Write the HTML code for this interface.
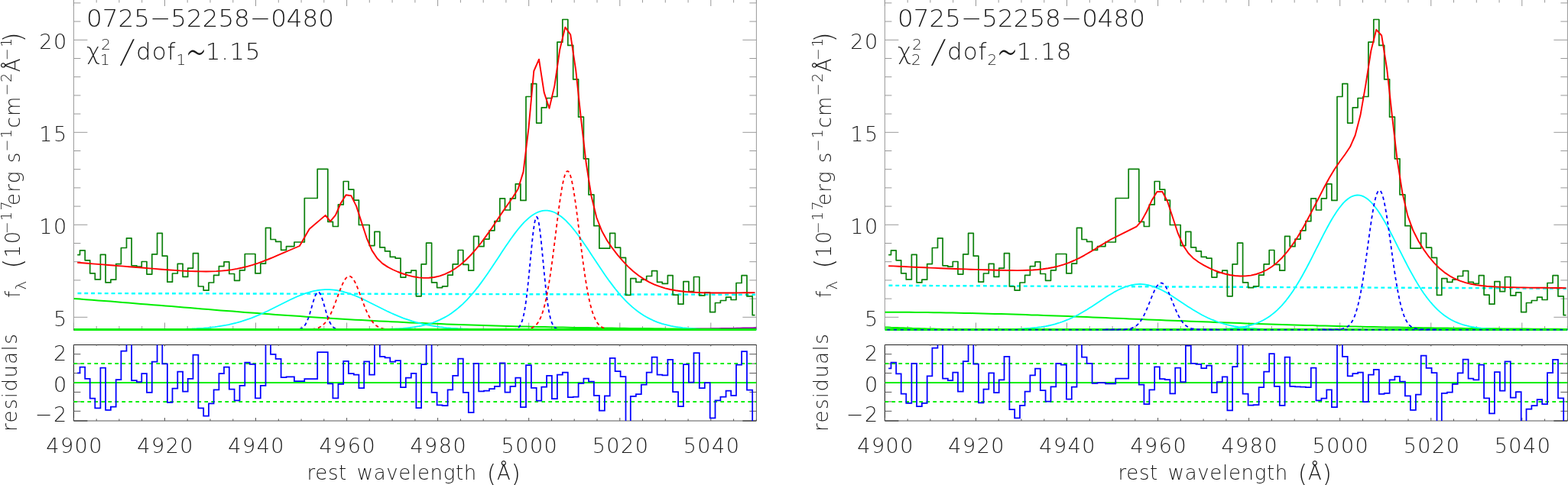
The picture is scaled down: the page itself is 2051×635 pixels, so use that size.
<!DOCTYPE html><html><head><meta charset="utf-8"><title>spectral fit</title><style>
html,body{margin:0;padding:0;background:#fff;overflow:hidden}
svg{display:block}
text{font-family:"DejaVu Sans",sans-serif;font-weight:200;fill:#1a1a1a}
.tl{font-size:27px;letter-spacing:1.5px}
.xt{font-size:26px;letter-spacing:0.65px;word-spacing:4px}
.yt{font-size:26px;letter-spacing:1.4px}
.an{font-size:31px;letter-spacing:0.95px}
</style></head><body>
<svg width="2051" height="635" viewBox="0 0 2051 635">
<rect width="100%" height="100%" fill="#fff"/>
<g id="p1"><clipPath id="ct1"><rect x="96.4" y="-5" width="893" height="438"/></clipPath>
<clipPath id="cr1"><rect x="96.4" y="451.5" width="893" height="99.5"/></clipPath>
<path d="M96.4,-2V431.5 M989.4,-2V431.5" stroke="#999" stroke-width="1" fill="none"/>
<path d="M96.4,415.3 h18 M989.4,415.3 h-18 M96.4,391.1 h9 M989.4,391.1 h-9 M96.4,366.9 h9 M989.4,366.9 h-9 M96.4,342.7 h9 M989.4,342.7 h-9 M96.4,318.5 h9 M989.4,318.5 h-9 M96.4,294.3 h18 M989.4,294.3 h-18 M96.4,270.1 h9 M989.4,270.1 h-9 M96.4,245.9 h9 M989.4,245.9 h-9 M96.4,221.7 h9 M989.4,221.7 h-9 M96.4,197.5 h9 M989.4,197.5 h-9 M96.4,173.3 h18 M989.4,173.3 h-18 M96.4,149.1 h9 M989.4,149.1 h-9 M96.4,124.9 h9 M989.4,124.9 h-9 M96.4,100.7 h9 M989.4,100.7 h-9 M96.4,76.5 h9 M989.4,76.5 h-9 M96.4,52.3 h18 M989.4,52.3 h-18 M96.4,28.1 h9 M989.4,28.1 h-9 M96.4,3.9 h9 M989.4,3.9 h-9 M96.4,431.5 v-9 M96.4,-1 v9 M126.2,431.5 v-4.5 M126.2,-1 v4.5 M155.9,431.5 v-4.5 M155.9,-1 v4.5 M185.7,431.5 v-4.5 M185.7,-1 v4.5 M215.5,431.5 v-9 M215.5,-1 v9 M245.2,431.5 v-4.5 M245.2,-1 v4.5 M275,431.5 v-4.5 M275,-1 v4.5 M304.8,431.5 v-4.5 M304.8,-1 v4.5 M334.5,431.5 v-9 M334.5,-1 v9 M364.3,431.5 v-4.5 M364.3,-1 v4.5 M394.1,431.5 v-4.5 M394.1,-1 v4.5 M423.8,431.5 v-4.5 M423.8,-1 v4.5 M453.6,431.5 v-9 M453.6,-1 v9 M483.3,431.5 v-4.5 M483.3,-1 v4.5 M513.1,431.5 v-4.5 M513.1,-1 v4.5 M542.9,431.5 v-4.5 M542.9,-1 v4.5 M572.6,431.5 v-9 M572.6,-1 v9 M602.4,431.5 v-4.5 M602.4,-1 v4.5 M632.2,431.5 v-4.5 M632.2,-1 v4.5 M661.9,431.5 v-4.5 M661.9,-1 v4.5 M691.7,431.5 v-9 M691.7,-1 v9 M721.5,431.5 v-4.5 M721.5,-1 v4.5 M751.2,431.5 v-4.5 M751.2,-1 v4.5 M781,431.5 v-4.5 M781,-1 v4.5 M810.8,431.5 v-9 M810.8,-1 v9 M840.5,431.5 v-4.5 M840.5,-1 v4.5 M870.3,431.5 v-4.5 M870.3,-1 v4.5 M900.1,431.5 v-4.5 M900.1,-1 v4.5 M929.8,431.5 v-9 M929.8,-1 v9 M959.6,431.5 v-4.5 M959.6,-1 v4.5 M989.4,431.5 v-4.5 M989.4,-1 v4.5" stroke="#999" stroke-width="1" fill="none"/>
<g clip-path="url(#ct1)" fill="none" stroke-linejoin="round">
<path d="M101.5,384 L141.5,384.1 L181.5,384.2 L221.5,384.2 L261.5,384.3 L301.5,384.4 L341.5,384.5 L381.5,384.6 L421.5,384.7 L461.5,384.7 L501.5,384.8 L541.5,384.9 L581.5,385 L621.5,385.1 L661.5,385.1 L701.5,385.2 L741.5,385.3 L781.5,385.4 L821.5,385.5 L861.5,385.5 L901.5,385.6 L941.5,385.7 L981.5,385.8 L988,385.8" stroke="#00ffff" stroke-width="2.4" stroke-dasharray="4.9 3.92"/>
<path d="M96.4,391 L104.4,391.6 L112.4,392.2 L120.4,392.8 L128.4,393.4 L136.4,394 L144.4,394.6 L152.4,395.3 L160.4,395.9 L168.4,396.6 L176.4,397.2 L184.4,397.9 L192.4,398.5 L200.4,399.2 L208.4,399.8 L216.4,400.5 L224.4,401.1 L232.4,401.8 L240.4,402.5 L248.4,403.1 L256.4,403.8 L264.4,404.4 L272.4,405.1 L280.4,405.7 L288.4,406.4 L296.4,407 L304.4,407.6 L312.4,408.3 L320.4,408.9 L328.4,409.5 L336.4,410.1 L344.4,410.7 L352.4,411.3 L360.4,411.9 L368.4,412.5 L376.4,413 L384.4,413.6 L392.4,414.1 L400.4,414.7 L408.4,415.2 L416.4,415.7 L424.4,416.3 L432.4,416.8 L440.4,417.3 L448.4,417.7 L456.4,418.2 L464.4,418.7 L472.4,419.1 L480.4,419.6 L488.4,420 L496.4,420.4 L504.4,420.8 L512.4,421.2 L520.4,421.6 L528.4,422 L536.4,422.4 L544.4,422.7 L552.4,423.1 L560.4,423.4 L568.4,423.7 L576.4,424.1 L584.4,424.4 L592.4,424.7 L600.4,425 L608.4,425.2 L616.4,425.5 L624.4,425.8 L632.4,426 L640.4,426.3 L648.4,426.5 L656.4,426.7 L664.4,426.9 L672.4,427.2 L680.4,427.4 L688.4,427.6 L696.4,427.7 L704.4,427.9 L712.4,428.1 L720.4,428.3 L728.4,428.4 L736.4,428.6 L744.4,428.7 L752.4,428.9 L760.4,429 L768.4,429.1 L776.4,429.3 L784.4,429.4 L792.4,429.5 L800.4,429.6 L808.4,429.7 L816.4,429.8 L824.4,429.9 L832.4,430 L840.4,430.1 L848.4,430.1 L856.4,430.2 L864.4,430.3 L872.4,430.4 L880.4,430.4 L888.4,430.5 L896.4,430.5 L904.4,430.6 L912.4,430.7 L920.4,430.7 L928.4,430.8 L936.4,430.8 L944.4,430.8 L952.4,430.9 L960.4,430.9 L968.4,431 L976.4,431 L984.4,431 L989.4,431" stroke="#00ee00" stroke-width="2"/>
<path d="M96.4,431.5 L500,431.5 L504,431.5 L508,431.5 L512,431.5 L516,431.5 L520,431.5 L524,431.5 L528,431.5 L532,431.5 L536,431.5 L540,431.5 L544,431.5 L548,431.5 L552,431.5 L556,431.5 L560,431.5 L564,431.5 L568,431.5 L572,431.5 L576,431.5 L580,431.5 L584,431.5 L588,431.5 L592,431.5 L596,431.5 L600,431.5 L604,431.5 L608,431.5 L612,431.5 L616,431.5 L620,431.5 L624,431.5 L628,431.5 L632,431.5 L636,431.5 L640,431.5 L644,431.5 L648,431.5 L652,431.5 L656,431.5 L660,431.5 L664,431.5 L668,431.5 L672,431.5 L676,431.5 L680,431.5 L684,431.5 L688,431.5 L692,431.5 L696,431.5 L700,431.5 L704,431.5 L708,431.5 L712,431.5 L716,431.5 L720,431.5 L724,431.5 L728,431.5 L732,431.5 L736,431.5 L740,431.5 L744,431.5 L748,431.5 L752,431.5 L756,431.5 L760,431.4 L764,431.4 L768,431.4 L772,431.4 L776,431.4 L780,431.4 L784,431.4 L788,431.4 L792,431.4 L796,431.4 L800,431.4 L804,431.4 L808,431.3 L812,431.3 L816,431.3 L820,431.3 L824,431.3 L828,431.3 L832,431.3 L836,431.2 L840,431.2 L844,431.2 L848,431.2 L852,431.2 L856,431.1 L860,431.1 L864,431.1 L868,431 L872,431 L876,431 L880,430.9 L884,430.9 L888,430.9 L892,430.8 L896,430.8 L900,430.7 L904,430.7 L908,430.7 L912,430.6 L916,430.6 L920,430.5 L924,430.4 L928,430.4 L932,430.3 L936,430.3 L940,430.2 L944,430.1 L948,430.1 L952,430 L956,429.9 L960,429.9 L964,429.8 L968,429.7 L972,429.6 L976,429.5 L980,429.5 L984,429.4 L988,429.3 L989.4,429.3" stroke="#8a00a0" stroke-width="2"/>
<path d="M96.4,431.5 L113,431.5 L116,431.5 L119,431.5 L122,431.5 L125,431.5 L128,431.5 L131,431.5 L134,431.5 L137,431.5 L140,431.5 L143,431.5 L146,431.5 L149,431.5 L152,431.5 L155,431.5 L158,431.5 L161,431.5 L164,431.5 L167,431.5 L170,431.5 L173,431.5 L176,431.5 L179,431.5 L182,431.5 L185,431.5 L188,431.5 L191,431.5 L194,431.4 L197,431.4 L200,431.4 L203,431.4 L206,431.4 L209,431.4 L212,431.4 L215,431.3 L218,431.3 L221,431.3 L224,431.2 L227,431.2 L230,431.1 L233,431.1 L236,431 L239,430.9 L242,430.8 L245,430.7 L248,430.6 L251,430.5 L254,430.3 L257,430.2 L260,430 L263,429.8 L266,429.6 L269,429.3 L272,429.1 L275,428.8 L278,428.4 L281,428.1 L284,427.7 L287,427.2 L290,426.7 L293,426.2 L296,425.7 L299,425.1 L302,424.4 L305,423.7 L308,423 L311,422.2 L314,421.3 L317,420.4 L320,419.4 L323,418.4 L326,417.4 L329,416.3 L332,415.1 L335,413.9 L338,412.6 L341,411.3 L344,410 L347,408.6 L350,407.2 L353,405.7 L356,404.2 L359,402.7 L362,401.2 L365,399.7 L368,398.2 L371,396.7 L374,395.2 L377,393.7 L380,392.3 L383,390.9 L386,389.5 L389,388.2 L392,387 L395,385.8 L398,384.7 L401,383.7 L404,382.8 L407,381.9 L410,381.2 L413,380.6 L416,380 L419,379.6 L422,379.3 L425,379.2 L428,379.1 L431,379.2 L434,379.3 L437,379.6 L440,380 L443,380.6 L446,381.2 L449,381.9 L452,382.8 L455,383.7 L458,384.7 L461,385.8 L464,387 L467,388.2 L470,389.5 L473,390.9 L476,392.3 L479,393.7 L482,395.2 L485,396.7 L488,398.2 L491,399.7 L494,401.2 L497,402.7 L500,404.2 L503,405.7 L506,407.2 L509,408.6 L512,410 L515,411.3 L518,412.6 L521,413.9 L524,415.1 L527,416.3 L530,417.4 L533,418.4 L536,419.4 L539,420.4 L542,421.3 L545,422.2 L548,423 L551,423.7 L554,424.4 L557,425.1 L560,425.7 L563,426.2 L566,426.7 L569,427.2 L572,427.7 L575,428.1 L578,428.4 L581,428.8 L584,429.1 L587,429.3 L590,429.6 L593,429.8 L596,430 L599,430.2 L602,430.3 L605,430.5 L608,430.6 L611,430.7 L614,430.8 L617,430.9 L620,431 L623,431.1 L626,431.1 L629,431.2 L632,431.2 L635,431.3 L638,431.3 L641,431.3 L644,431.4 L647,431.4 L650,431.4 L653,431.4 L656,431.4 L659,431.4 L662,431.4 L665,431.5 L668,431.5 L671,431.5 L674,431.5 L677,431.5 L680,431.5 L683,431.5 L686,431.5 L689,431.5 L692,431.5 L695,431.5 L698,431.5 L701,431.5 L704,431.5 L707,431.5 L710,431.5 L713,431.5 L716,431.5 L719,431.5 L722,431.5 L725,431.5 L728,431.5 L731,431.5 L734,431.5 L737,431.5 L740,431.5 L743,431.5 L989.4,431.5" stroke="#00ffff" stroke-width="1.8"/>
<path d="M96.4,431.5 L404,431.5 L407,431.5 L410,431.5 L413,431.5 L416,431.5 L419,431.5 L422,431.5 L425,431.5 L428,431.5 L431,431.5 L434,431.5 L437,431.5 L440,431.5 L443,431.5 L446,431.5 L449,431.5 L452,431.5 L455,431.5 L458,431.5 L461,431.5 L464,431.5 L467,431.4 L470,431.4 L473,431.4 L476,431.4 L479,431.4 L482,431.4 L485,431.3 L488,431.3 L491,431.3 L494,431.2 L497,431.2 L500,431.1 L503,431 L506,430.9 L509,430.8 L512,430.7 L515,430.6 L518,430.4 L521,430.3 L524,430.1 L527,429.9 L530,429.6 L533,429.3 L536,429 L539,428.6 L542,428.2 L545,427.7 L548,427.2 L551,426.6 L554,425.9 L557,425.2 L560,424.4 L563,423.5 L566,422.5 L569,421.4 L572,420.2 L575,418.9 L578,417.4 L581,415.9 L584,414.2 L587,412.4 L590,410.4 L593,408.3 L596,406 L599,403.6 L602,401 L605,398.3 L608,395.3 L611,392.3 L614,389 L617,385.7 L620,382.1 L623,378.4 L626,374.6 L629,370.6 L632,366.5 L635,362.3 L638,358 L641,353.6 L644,349.1 L647,344.6 L650,340 L653,335.4 L656,330.8 L659,326.3 L662,321.8 L665,317.4 L668,313.1 L671,308.9 L674,304.9 L677,301 L680,297.4 L683,293.9 L686,290.7 L689,287.8 L692,285.1 L695,282.8 L698,280.7 L701,279 L704,277.6 L707,276.6 L710,275.9 L713,275.6 L716,275.7 L719,276.1 L722,276.9 L725,278 L728,279.5 L731,281.4 L734,283.5 L737,286 L740,288.7 L743,291.8 L746,295 L749,298.6 L752,302.3 L755,306.2 L758,310.3 L761,314.5 L764,318.9 L767,323.3 L770,327.8 L773,332.4 L776,336.9 L779,341.5 L782,346.1 L785,350.6 L788,355 L791,359.4 L794,363.7 L797,367.9 L800,371.9 L803,375.9 L806,379.7 L809,383.3 L812,386.8 L815,390.1 L818,393.3 L821,396.3 L824,399.2 L827,401.9 L830,404.4 L833,406.8 L836,409 L839,411.1 L842,413 L845,414.8 L848,416.4 L851,417.9 L854,419.3 L857,420.6 L860,421.8 L863,422.8 L866,423.8 L869,424.7 L872,425.4 L875,426.1 L878,426.8 L881,427.4 L884,427.9 L887,428.3 L890,428.7 L893,429.1 L896,429.4 L899,429.7 L902,429.9 L905,430.1 L908,430.3 L911,430.5 L914,430.6 L917,430.8 L920,430.9 L923,431 L926,431 L929,431.1 L932,431.2 L935,431.2 L938,431.3 L941,431.3 L944,431.3 L947,431.4 L950,431.4 L953,431.4 L956,431.4 L959,431.4 L962,431.4 L965,431.5 L968,431.5 L971,431.5 L974,431.5 L977,431.5 L980,431.5 L983,431.5 L986,431.5 L989,431.5 L989.4,431.5" stroke="#00ffff" stroke-width="1.8"/>
<path d="M96.4,431.5 L374.2,431.5 L375.2,431.5 L376.2,431.5 L377.2,431.5 L378.2,431.5 L379.2,431.5 L380.2,431.5 L381.2,431.5 L382.2,431.5 L383.2,431.5 L384.2,431.5 L385.2,431.4 L386.2,431.4 L387.2,431.4 L388.2,431.3 L389.2,431.2 L390.2,431.1 L391.2,430.9 L392.2,430.7 L393.2,430.3 L394.2,429.9 L395.2,429.3 L396.2,428.6 L397.2,427.7 L398.2,426.6 L399.2,425.2 L400.2,423.5 L401.2,421.5 L402.2,419.3 L403.2,416.7 L404.2,413.8 L405.2,410.7 L406.2,407.3 L407.2,403.8 L408.2,400.3 L409.2,396.8 L410.2,393.5 L411.2,390.4 L412.2,387.7 L413.2,385.4 L414.2,383.8 L415.2,382.7 L416.2,382.4 L417.2,382.7 L418.2,383.8 L419.2,385.4 L420.2,387.7 L421.2,390.4 L422.2,393.5 L423.2,396.8 L424.2,400.3 L425.2,403.8 L426.2,407.3 L427.2,410.7 L428.2,413.8 L429.2,416.7 L430.2,419.3 L431.2,421.5 L432.2,423.5 L433.2,425.2 L434.2,426.6 L435.2,427.7 L436.2,428.6 L437.2,429.3 L438.2,429.9 L439.2,430.3 L440.2,430.7 L441.2,430.9 L442.2,431.1 L443.2,431.2 L444.2,431.3 L445.2,431.4 L446.2,431.4 L447.2,431.4 L448.2,431.5 L449.2,431.5 L450.2,431.5 L451.2,431.5 L452.2,431.5 L453.2,431.5 L454.2,431.5 L455.2,431.5 L456.2,431.5 L457.2,431.5 L458.2,431.5 L989.4,431.5" stroke="#0000ff" stroke-width="1.8" stroke-dasharray="4.4 3.8"/>
<path d="M96.4,431.5 L660,431.5 L661,431.5 L662,431.5 L663,431.5 L664,431.5 L665,431.5 L666,431.5 L667,431.5 L668,431.5 L669,431.4 L670,431.4 L671,431.3 L672,431.2 L673,431.1 L674,430.9 L675,430.7 L676,430.3 L677,429.7 L678,429 L679,428 L680,426.7 L681,425 L682,422.8 L683,420.1 L684,416.7 L685,412.5 L686,407.5 L687,401.6 L688,394.7 L689,387 L690,378.3 L691,368.9 L692,358.9 L693,348.4 L694,337.8 L695,327.3 L696,317.2 L697,307.9 L698,299.8 L699,293.1 L700,288.1 L701,285 L702,284 L703,285 L704,288.1 L705,293.1 L706,299.8 L707,307.9 L708,317.2 L709,327.3 L710,337.8 L711,348.4 L712,358.9 L713,368.9 L714,378.3 L715,387 L716,394.7 L717,401.6 L718,407.5 L719,412.5 L720,416.7 L721,420.1 L722,422.8 L723,425 L724,426.7 L725,428 L726,429 L727,429.7 L728,430.3 L729,430.7 L730,430.9 L731,431.1 L732,431.2 L733,431.3 L734,431.4 L735,431.4 L736,431.5 L737,431.5 L738,431.5 L739,431.5 L740,431.5 L741,431.5 L742,431.5 L743,431.5 L744,431.5 L989.4,431.5" stroke="#0000ff" stroke-width="1.8" stroke-dasharray="4.4 3.8"/>
<path d="M96.4,431.5 L379.3,431.5 L380.3,431.5 L381.3,431.5 L382.3,431.5 L383.3,431.5 L384.3,431.5 L385.3,431.5 L386.3,431.5 L387.3,431.5 L388.3,431.5 L389.3,431.5 L390.3,431.5 L391.3,431.5 L392.3,431.5 L393.3,431.5 L394.3,431.5 L395.3,431.5 L396.3,431.5 L397.3,431.5 L398.3,431.4 L399.3,431.4 L400.3,431.4 L401.3,431.4 L402.3,431.4 L403.3,431.3 L404.3,431.3 L405.3,431.2 L406.3,431.2 L407.3,431.1 L408.3,431 L409.3,430.9 L410.3,430.7 L411.3,430.6 L412.3,430.4 L413.3,430.1 L414.3,429.9 L415.3,429.6 L416.3,429.2 L417.3,428.8 L418.3,428.3 L419.3,427.8 L420.3,427.1 L421.3,426.4 L422.3,425.6 L423.3,424.7 L424.3,423.7 L425.3,422.6 L426.3,421.4 L427.3,420.1 L428.3,418.6 L429.3,417 L430.3,415.3 L431.3,413.4 L432.3,411.5 L433.3,409.4 L434.3,407.1 L435.3,404.8 L436.3,402.3 L437.3,399.8 L438.3,397.2 L439.3,394.5 L440.3,391.8 L441.3,389.1 L442.3,386.4 L443.3,383.7 L444.3,381 L445.3,378.4 L446.3,375.9 L447.3,373.6 L448.3,371.4 L449.3,369.3 L450.3,367.5 L451.3,365.9 L452.3,364.5 L453.3,363.4 L454.3,362.5 L455.3,361.9 L456.3,361.6 L457.3,361.6 L458.3,361.9 L459.3,362.5 L460.3,363.4 L461.3,364.5 L462.3,365.9 L463.3,367.5 L464.3,369.3 L465.3,371.4 L466.3,373.6 L467.3,375.9 L468.3,378.4 L469.3,381 L470.3,383.7 L471.3,386.4 L472.3,389.1 L473.3,391.8 L474.3,394.5 L475.3,397.2 L476.3,399.8 L477.3,402.3 L478.3,404.8 L479.3,407.1 L480.3,409.4 L481.3,411.5 L482.3,413.4 L483.3,415.3 L484.3,417 L485.3,418.6 L486.3,420.1 L487.3,421.4 L488.3,422.6 L489.3,423.7 L490.3,424.7 L491.3,425.6 L492.3,426.4 L493.3,427.1 L494.3,427.8 L495.3,428.3 L496.3,428.8 L497.3,429.2 L498.3,429.6 L499.3,429.9 L500.3,430.1 L501.3,430.4 L502.3,430.6 L503.3,430.7 L504.3,430.9 L505.3,431 L506.3,431.1 L507.3,431.2 L508.3,431.2 L509.3,431.3 L510.3,431.3 L511.3,431.4 L512.3,431.4 L513.3,431.4 L514.3,431.4 L515.3,431.4 L516.3,431.5 L517.3,431.5 L518.3,431.5 L519.3,431.5 L520.3,431.5 L521.3,431.5 L522.3,431.5 L523.3,431.5 L524.3,431.5 L525.3,431.5 L526.3,431.5 L527.3,431.5 L528.3,431.5 L529.3,431.5 L530.3,431.5 L531.3,431.5 L532.3,431.5 L533.3,431.5 L534.3,431.5 L989.4,431.5" stroke="#ff0000" stroke-width="1.8" stroke-dasharray="4.4 3.8"/>
<path d="M96.4,431.5 L664.9,431.5 L665.9,431.5 L666.9,431.5 L667.9,431.5 L668.9,431.5 L669.9,431.5 L670.9,431.5 L671.9,431.5 L672.9,431.5 L673.9,431.5 L674.9,431.5 L675.9,431.5 L676.9,431.5 L677.9,431.5 L678.9,431.5 L679.9,431.4 L680.9,431.4 L681.9,431.4 L682.9,431.4 L683.9,431.3 L684.9,431.3 L685.9,431.2 L686.9,431.2 L687.9,431.1 L688.9,431 L689.9,430.8 L690.9,430.7 L691.9,430.5 L692.9,430.2 L693.9,429.9 L694.9,429.6 L695.9,429.2 L696.9,428.7 L697.9,428.1 L698.9,427.5 L699.9,426.7 L700.9,425.7 L701.9,424.7 L702.9,423.4 L703.9,422 L704.9,420.4 L705.9,418.5 L706.9,416.4 L707.9,414.1 L708.9,411.4 L709.9,408.5 L710.9,405.2 L711.9,401.6 L712.9,397.6 L713.9,393.2 L714.9,388.5 L715.9,383.4 L716.9,377.9 L717.9,372 L718.9,365.8 L719.9,359.1 L720.9,352.2 L721.9,345 L722.9,337.5 L723.9,329.7 L724.9,321.8 L725.9,313.8 L726.9,305.6 L727.9,297.5 L728.9,289.5 L729.9,281.6 L730.9,273.9 L731.9,266.5 L732.9,259.5 L733.9,253 L734.9,246.9 L735.9,241.5 L736.9,236.7 L737.9,232.6 L738.9,229.2 L739.9,226.7 L740.9,225 L741.9,224.1 L742.9,224.1 L743.9,225 L744.9,226.7 L745.9,229.2 L746.9,232.6 L747.9,236.7 L748.9,241.5 L749.9,246.9 L750.9,253 L751.9,259.5 L752.9,266.5 L753.9,273.9 L754.9,281.6 L755.9,289.5 L756.9,297.5 L757.9,305.6 L758.9,313.8 L759.9,321.8 L760.9,329.7 L761.9,337.5 L762.9,345 L763.9,352.2 L764.9,359.1 L765.9,365.8 L766.9,372 L767.9,377.9 L768.9,383.4 L769.9,388.5 L770.9,393.2 L771.9,397.6 L772.9,401.6 L773.9,405.2 L774.9,408.5 L775.9,411.4 L776.9,414.1 L777.9,416.4 L778.9,418.5 L779.9,420.4 L780.9,422 L781.9,423.4 L782.9,424.7 L783.9,425.7 L784.9,426.7 L785.9,427.5 L786.9,428.1 L787.9,428.7 L788.9,429.2 L789.9,429.6 L790.9,429.9 L791.9,430.2 L792.9,430.5 L793.9,430.7 L794.9,430.8 L795.9,431 L796.9,431.1 L797.9,431.2 L798.9,431.2 L799.9,431.3 L800.9,431.3 L801.9,431.4 L802.9,431.4 L803.9,431.4 L804.9,431.4 L805.9,431.5 L806.9,431.5 L807.9,431.5 L808.9,431.5 L809.9,431.5 L810.9,431.5 L811.9,431.5 L812.9,431.5 L813.9,431.5 L814.9,431.5 L815.9,431.5 L816.9,431.5 L817.9,431.5 L818.9,431.5 L819.9,431.5 L989.4,431.5" stroke="#ff0000" stroke-width="1.8" stroke-dasharray="4.4 3.8"/>
<path d="M96.4,431.5 H989.4" stroke="#00ee00" stroke-width="2.8"/>
<path d="M101.2,333.6H104.5V327.9H111.2V340.8H117.7V357.8H124.3V365.9H131.4V333.3H138.1V369.9H144.9V366.2H151.7V345.6H158.4V324.5H165.5V311.8H172.1V347.8H178.9V349.2H185.3V342.5H192V359.1H198.8V332.9H205.6V305.3H212.3V335.2H218.9V369.2H225.5V358H232.3V345.4H239.1V362.4H245.7V351.1H252.5V331.7H259.4V375H266.2V380.2H273V370H279.6V360.4H286.4V348.6H293V342.8H299.8V358.5H306.6V367.3H313.5V353.8H320.3V332.5H326.8V332.5H333.9V357.9H340.8V345.2H347.5V298.3H354V313.5H360.6V316.3H367.6V327.4H374.5V322.6H384.9V317H398.3V259.5H415.2V221.4H428.8V290.3H435.4V296.5H442.4V267.9H449.2V237.5H455.9V248.1H462.8V262.2H469.4V294.5H476.2V294.5H483.2V321.6H489.9V303.3H496.8V323.9H503.5V328.9H510.3V336.4H517.2V338.2H524V363.1H530.8V356.9H537.8V354.1H544.4V387.8H551.1V345.9H557.6V318.2H564.6V369.9H571.6V376.6H578.6V374.8H585.6V360.2H592.2V345.9H599.2V327.5H605.8V346.4H612.8V354.2H619.6V309.3H626.2V322.7H633V313.1H640V301.8H646.9V289.7H653.8V259.8H660.5V275H667.4V259.8H674.3V240.8H680.9V262.4H688V126.5H694.9V109.7H701.7V161.1H708.3V140.8H715.1V128.5H721.9V126.5H728.9V55.2H735.8V25.5H742.8V59.4H749.7V103.9H756.6V153.2H763.4V207.8H770V254.9H776.9V295.7H783.9V325.2H790.9V325.2H797.7V305.3H804.6V324.2H811.6V337.3H818.5V386.4H824.8V364.6H831.9V369.4H838.8V366.2H845.7V361.5H852.6V354.6H859.6V369.4H866.3V371.4H873.4V360.7H880.1V386.1H887.1V398.2H893.9V368.6H900.9V381.7H907.5V362.5H914.8V386.9H921.8V382.8H928.7V408.7H935.5V396.5H942.4V393.5H949.6V389.1H956.2V392.5H963V370.5H970.1V360.7H977V387.9H984.2V412.7H987.5" stroke="#0a800a" stroke-width="1.7"/>
<path d="M101.2,343.8 L107.8,344.3 L114.5,344.8 L121,345.4 L127.8,345.9 L134.8,346.4 L141.5,347 L148.3,347.5 L155.1,348.1 L161.9,348.6 L168.8,349.2 L175.5,349.8 L182.1,350.3 L188.7,350.8 L195.4,351.4 L202.2,351.9 L208.9,352.5 L215.6,353 L222.2,353.5 L228.9,353.9 L235.7,354.4 L242.4,354.7 L249.1,355.1 L255.9,355.3 L262.8,355.4 L269.6,355.5 L276.3,355.4 L283,355.1 L289.7,354.6 L296.4,354 L303.2,353.1 L310.1,351.9 L316.9,350.5 L323.6,348.8 L330.4,346.9 L337.4,344.6 L344.1,342.1 L350.8,339.5 L357.3,336.8 L364.1,333.9 L371.1,330.9 L377.9,328 L391.9,322 L404.7,299.7 L425.7,281.9 L432.1,289.8 L438.9,281.6 L445.8,266 L452.5,255.3 L459.4,256.3 L466.1,269.9 L472.8,290.6 L479.7,311.8 L486.5,327.9 L493.4,338.3 L500.1,344.9 L506.9,349.4 L513.8,353 L520.6,356 L527.4,358.5 L534.3,360.7 L541.1,362.3 L547.8,363.4 L554.4,363.9 L561.1,363.8 L568.1,363 L575.1,361.4 L582.1,358.9 L588.9,355.7 L595.7,351.5 L602.5,346.5 L609.3,340.5 L616.2,333.5 L622.9,325.9 L629.6,317.5 L636.5,308.1 L643.5,298.2 L650.3,288 L657.1,277.9 L664,268 L670.8,258.2 L677.6,247.5 L684.5,225.1 L691.5,167.4 L698.3,93 L705,77.7 L711.7,121.1 L718.5,141.8 L725.4,112.1 L732.3,64.7 L739.3,35.6 L746.2,45.2 L753.2,91.8 L760,155.5 L766.7,213.5 L773.5,256.7 L780.4,285 L787.4,302.8 L794.3,315.2 L801.2,325.2 L808.1,334.2 L815,342.2 L821.6,349.1 L828.3,355.2 L835.3,360.8 L842.2,365.4 L849.2,369.3 L856.1,372.6 L863,375.2 L869.8,377.3 L876.8,379 L883.6,380.3 L890.5,381.2 L897.4,382 L904.2,382.5 L911.1,382.9 L918.3,383.2 L925.2,383.4 L932.1,383.5 L939,383.5 L946,383.5 L952.9,383.5 L959.6,383.5 L966.5,383.4 L973.5,383.3 L980.6,383.2 L987.5,383.1" stroke="#ff0000" stroke-width="1.9"/>
</g>
<path d="M96.4,451.5 H989.4 M96.4,451.5 V551" stroke="#222" stroke-width="1.1" fill="none"/>
<path d="M96.4,551 H989.4 V451.5" stroke="#555" stroke-width="1" fill="none"/>
<path d="M96.4,538.3 h9 M989.4,538.3 h-9 M96.4,525.9 h9 M989.4,525.9 h-9 M96.4,513.4 h9 M989.4,513.4 h-9 M96.4,501 h9 M989.4,501 h-9 M96.4,488.6 h9 M989.4,488.6 h-9 M96.4,476.1 h9 M989.4,476.1 h-9 M96.4,463.7 h9 M989.4,463.7 h-9 M96.4,551 v-4 M96.4,451.5 v2 M126.2,551 v-2.5 M126.2,451.5 v1.2 M155.9,551 v-2.5 M155.9,451.5 v1.2 M185.7,551 v-2.5 M185.7,451.5 v1.2 M215.5,551 v-4 M215.5,451.5 v2 M245.2,551 v-2.5 M245.2,451.5 v1.2 M275,551 v-2.5 M275,451.5 v1.2 M304.8,551 v-2.5 M304.8,451.5 v1.2 M334.5,551 v-4 M334.5,451.5 v2 M364.3,551 v-2.5 M364.3,451.5 v1.2 M394.1,551 v-2.5 M394.1,451.5 v1.2 M423.8,551 v-2.5 M423.8,451.5 v1.2 M453.6,551 v-4 M453.6,451.5 v2 M483.3,551 v-2.5 M483.3,451.5 v1.2 M513.1,551 v-2.5 M513.1,451.5 v1.2 M542.9,551 v-2.5 M542.9,451.5 v1.2 M572.6,551 v-4 M572.6,451.5 v2 M602.4,551 v-2.5 M602.4,451.5 v1.2 M632.2,551 v-2.5 M632.2,451.5 v1.2 M661.9,551 v-2.5 M661.9,451.5 v1.2 M691.7,551 v-4 M691.7,451.5 v2 M721.5,551 v-2.5 M721.5,451.5 v1.2 M751.2,551 v-2.5 M751.2,451.5 v1.2 M781,551 v-2.5 M781,451.5 v1.2 M810.8,551 v-4 M810.8,451.5 v2 M840.5,551 v-2.5 M840.5,451.5 v1.2 M870.3,551 v-2.5 M870.3,451.5 v1.2 M900.1,551 v-2.5 M900.1,451.5 v1.2 M929.8,551 v-4 M929.8,451.5 v2 M959.6,551 v-2.5 M959.6,451.5 v1.2 M989.4,551 v-2.5 M989.4,451.5 v1.2" stroke="#555" stroke-width="1" fill="none"/>
<path d="M96.4,551 h18 M989.4,551 h-18" stroke="#222" stroke-width="1.2"/>
<g clip-path="url(#cr1)" fill="none">
<path d="M96.4,501 H989.4" stroke="#00ee00" stroke-width="2"/>
<path d="M96.4,476.1 H989.4" stroke="#00ee00" stroke-width="2" stroke-dasharray="4.7 4.3"/>
<path d="M96.4,525.9 H989.4" stroke="#00ee00" stroke-width="2" stroke-dasharray="4.7 4.3"/>
<path d="M101.2,488.4H104.5V480.6H111.2V495.9H117.7V521.7H124.3V534.3H131.4V481.5H138.1V536.9H144.9V532.6H151.7V497.1H158.4V459.5H165.5V430H172.1V498H178.9V500H185.3V489H192V513.9H198.8V473.7H205.6V430H212.3V476.3H218.9V526.9H225.5V508.7H232.3V486.7H239.1V512.7H245.7V495.9H252.5V464.5H259.4V534.3H266.2V544.7H273V528.3H279.6V510.4H286.4V489H293V480.6H299.8V509.7H306.6V524.3H313.5V504.9H320.3V474.6H326.8V476.8H333.9V521.4H340.8V504.9H347.5V430H354V463.8H360.6V469.9H367.6V494.2H374.5V493.3H384.9V499.2H398.3V496.2H415.2V461.2H428.8V502.3H435.4V521.4H442.4V502.8H449.2V472.8H455.9V489H462.8V490.7H469.4V508H476.2V473.4H483.2V490.7H489.9V430H496.8V466.8H503.5V468.3H510.3V473.7H517.2V472H524V507.1H530.8V494.5H537.8V488.8H544.4V534H551.1V477.2H557.6V430H564.6V513.9H571.6V530.4H578.6V531.2H585.6V510.4H592.2V491.9H599.2V469.7H605.8V513.9H612.8V540.1H619.6V475.8H626.2V512.3H633V511.5H640V509.2H646.9V505.8H653.8V475.4H660.5V513.6H667.4V505.8H674.3V494.5H680.9V533.1H688V478H694.9V507.8H701.7V524.5H708.3V506.6H715.1V491.9H721.9V522.2H728.9V490.7H735.8V487.6H742.8V520.1H749.7V519.6H756.6V501.8H763.4V495.7H770V499.7H776.9V517.9H783.9V537.5H790.9V518.4H797.7V468.9H804.6V486.2H811.6V493.1H818.5V570H824.8V518.8H831.9V516.2H838.8V503.5H845.7V487.6H852.6V467.7H859.6V490.7H866.3V491.4H873.4V470.8H880.1V513.2H887.1V532.1H893.9V477.2H900.9V500.6H907.5V462.1H914.8V508H921.8V501.1H928.7V547.3H935.5V524.3H942.4V519.6H949.6V511.5H956.2V517.9H963V477.5H970.1V460.2H977V510.6H984.2V570H987.5" stroke="#0000ff" stroke-width="1.75"/>
</g>
<text x="88.7" y="426.9" text-anchor="end" class="tl">5</text>
<text x="88.7" y="305.9" text-anchor="end" class="tl">10</text>
<text x="88.7" y="184.9" text-anchor="end" class="tl">15</text>
<text x="88.7" y="63.9" text-anchor="end" class="tl">20</text>
<text x="88.6" y="471.5" text-anchor="end" class="tl">2</text>
<text x="88.6" y="513" text-anchor="end" class="tl">0</text>
<text x="88.6" y="551.5" text-anchor="end" class="tl">−2</text>
<text x="97.6" y="592.8" text-anchor="middle" class="tl">4900</text>
<text x="216.7" y="592.8" text-anchor="middle" class="tl">4920</text>
<text x="335.7" y="592.8" text-anchor="middle" class="tl">4940</text>
<text x="454.8" y="592.8" text-anchor="middle" class="tl">4960</text>
<text x="573.8" y="592.8" text-anchor="middle" class="tl">4980</text>
<text x="692.9" y="592.8" text-anchor="middle" class="tl">5000</text>
<text x="812" y="592.8" text-anchor="middle" class="tl">5020</text>
<text x="931" y="592.8" text-anchor="middle" class="tl">5040</text>
<text x="541.5" y="628.2" text-anchor="middle" class="xt">rest wavelength <tspan font-size="32" dy="2.5">(</tspan><tspan dy="-2.5">Å</tspan><tspan font-size="32" dy="2.5">)</tspan></text>
<text transform="translate(26,390) rotate(-90)" class="yt">f<tspan font-size="20" dy="8">λ</tspan><tspan dy="-8" dx="5"> </tspan><tspan font-size="33" dy="2.5">(</tspan><tspan dy="-2.5">10</tspan><tspan font-size="19" dy="-11" dx="-5">−17</tspan><tspan dy="11" dx="-7">erg s</tspan><tspan font-size="19" dy="-11">−1</tspan><tspan dy="11">cm</tspan><tspan font-size="19" dy="-11">−2</tspan><tspan dy="11">Å</tspan><tspan font-size="19" dy="-11" dx="-4">−1</tspan><tspan dy="13.5" dx="-7" font-size="33">)</tspan></text>
<text transform="translate(22,565) rotate(-90)" class="yt">residuals</text>
<text x="113" y="35" class="an" style="font-size:32.6px;letter-spacing:0px">0725−52258−0480</text>
<text x="113" y="77.6" class="an">χ<tspan font-size="20" dy="-13">2</tspan><tspan font-size="20" dx="-15" dy="20">1</tspan></text>
<text transform="translate(157.3,82.2) scale(1,1.14) skewX(-14)" x="0" y="0" class="an" style="font-size:37px">/</text>
<text x="178" y="77.6" class="an">dof<tspan font-size="20" dy="7">1</tspan></text>
<text transform="translate(242.8,86.6) scale(1.06,1.9)" x="0" y="0" class="an">~</text>
<text x="268.7" y="77.6" class="an">1.15</text></g>
<g id="p2" transform="translate(1061,0)"><clipPath id="ct2"><rect x="96.4" y="-5" width="893" height="438"/></clipPath>
<clipPath id="cr2"><rect x="96.4" y="451.5" width="893" height="99.5"/></clipPath>
<path d="M96.4,-2V431.5 M989.4,-2V431.5" stroke="#999" stroke-width="1" fill="none"/>
<path d="M96.4,415.3 h18 M989.4,415.3 h-18 M96.4,391.1 h9 M989.4,391.1 h-9 M96.4,366.9 h9 M989.4,366.9 h-9 M96.4,342.7 h9 M989.4,342.7 h-9 M96.4,318.5 h9 M989.4,318.5 h-9 M96.4,294.3 h18 M989.4,294.3 h-18 M96.4,270.1 h9 M989.4,270.1 h-9 M96.4,245.9 h9 M989.4,245.9 h-9 M96.4,221.7 h9 M989.4,221.7 h-9 M96.4,197.5 h9 M989.4,197.5 h-9 M96.4,173.3 h18 M989.4,173.3 h-18 M96.4,149.1 h9 M989.4,149.1 h-9 M96.4,124.9 h9 M989.4,124.9 h-9 M96.4,100.7 h9 M989.4,100.7 h-9 M96.4,76.5 h9 M989.4,76.5 h-9 M96.4,52.3 h18 M989.4,52.3 h-18 M96.4,28.1 h9 M989.4,28.1 h-9 M96.4,3.9 h9 M989.4,3.9 h-9 M96.4,431.5 v-9 M96.4,-1 v9 M126.2,431.5 v-4.5 M126.2,-1 v4.5 M155.9,431.5 v-4.5 M155.9,-1 v4.5 M185.7,431.5 v-4.5 M185.7,-1 v4.5 M215.5,431.5 v-9 M215.5,-1 v9 M245.2,431.5 v-4.5 M245.2,-1 v4.5 M275,431.5 v-4.5 M275,-1 v4.5 M304.8,431.5 v-4.5 M304.8,-1 v4.5 M334.5,431.5 v-9 M334.5,-1 v9 M364.3,431.5 v-4.5 M364.3,-1 v4.5 M394.1,431.5 v-4.5 M394.1,-1 v4.5 M423.8,431.5 v-4.5 M423.8,-1 v4.5 M453.6,431.5 v-9 M453.6,-1 v9 M483.3,431.5 v-4.5 M483.3,-1 v4.5 M513.1,431.5 v-4.5 M513.1,-1 v4.5 M542.9,431.5 v-4.5 M542.9,-1 v4.5 M572.6,431.5 v-9 M572.6,-1 v9 M602.4,431.5 v-4.5 M602.4,-1 v4.5 M632.2,431.5 v-4.5 M632.2,-1 v4.5 M661.9,431.5 v-4.5 M661.9,-1 v4.5 M691.7,431.5 v-9 M691.7,-1 v9 M721.5,431.5 v-4.5 M721.5,-1 v4.5 M751.2,431.5 v-4.5 M751.2,-1 v4.5 M781,431.5 v-4.5 M781,-1 v4.5 M810.8,431.5 v-9 M810.8,-1 v9 M840.5,431.5 v-4.5 M840.5,-1 v4.5 M870.3,431.5 v-4.5 M870.3,-1 v4.5 M900.1,431.5 v-4.5 M900.1,-1 v4.5 M929.8,431.5 v-9 M929.8,-1 v9 M959.6,431.5 v-4.5 M959.6,-1 v4.5 M989.4,431.5 v-4.5 M989.4,-1 v4.5" stroke="#999" stroke-width="1" fill="none"/>
<g clip-path="url(#ct2)" fill="none" stroke-linejoin="round">
<path d="M101.5,373.8 L141.5,374 L181.5,374.2 L221.5,374.3 L261.5,374.5 L301.5,374.7 L341.5,374.9 L381.5,375 L421.5,375.2 L461.5,375.4 L501.5,375.6 L541.5,375.7 L581.5,375.9 L621.5,376.1 L661.5,376.3 L701.5,376.4 L741.5,376.6 L781.5,376.8 L821.5,377 L861.5,377.1 L901.5,377.3 L941.5,377.5 L981.5,377.7 L988,377.7" stroke="#00ffff" stroke-width="2.4" stroke-dasharray="4.9 3.92"/>
<path d="M96.4,408.7 L104.4,408.7 L112.4,408.7 L120.4,408.8 L128.4,408.8 L136.4,408.9 L144.4,409 L152.4,409.1 L160.4,409.2 L168.4,409.3 L176.4,409.4 L184.4,409.6 L192.4,409.7 L200.4,409.9 L208.4,410.1 L216.4,410.2 L224.4,410.4 L232.4,410.7 L240.4,410.9 L248.4,411.1 L256.4,411.3 L264.4,411.6 L272.4,411.8 L280.4,412.1 L288.4,412.4 L296.4,412.6 L304.4,412.9 L312.4,413.2 L320.4,413.5 L328.4,413.8 L336.4,414.1 L344.4,414.4 L352.4,414.7 L360.4,415.1 L368.4,415.4 L376.4,415.7 L384.4,416 L392.4,416.4 L400.4,416.7 L408.4,417 L416.4,417.4 L424.4,417.7 L432.4,418 L440.4,418.4 L448.4,418.7 L456.4,419 L464.4,419.4 L472.4,419.7 L480.4,420 L488.4,420.3 L496.4,420.7 L504.4,421 L512.4,421.3 L520.4,421.6 L528.4,421.9 L536.4,422.2 L544.4,422.5 L552.4,422.8 L560.4,423.1 L568.4,423.4 L576.4,423.7 L584.4,423.9 L592.4,424.2 L600.4,424.5 L608.4,424.7 L616.4,425 L624.4,425.2 L632.4,425.5 L640.4,425.7 L648.4,425.9 L656.4,426.1 L664.4,426.4 L672.4,426.6 L680.4,426.8 L688.4,427 L696.4,427.2 L704.4,427.4 L712.4,427.5 L720.4,427.7 L728.4,427.9 L736.4,428 L744.4,428.2 L752.4,428.4 L760.4,428.5 L768.4,428.6 L776.4,428.8 L784.4,428.9 L792.4,429 L800.4,429.2 L808.4,429.3 L816.4,429.4 L824.4,429.5 L832.4,429.6 L840.4,429.7 L848.4,429.8 L856.4,429.9 L864.4,430 L872.4,430.1 L880.4,430.1 L888.4,430.2 L896.4,430.3 L904.4,430.4 L912.4,430.4 L920.4,430.5 L928.4,430.6 L936.4,430.6 L944.4,430.7 L952.4,430.7 L960.4,430.8 L968.4,430.8 L976.4,430.8 L984.4,430.9 L989.4,430.9" stroke="#00ee00" stroke-width="2"/>
<path d="M96.4,428.5 L100.4,428.6 L104.4,428.8 L108.4,428.9 L112.4,429 L116.4,429.2 L120.4,429.3 L124.4,429.5 L128.4,429.6 L132.4,429.8 L136.4,429.9 L140.4,430 L144.4,430.2 L148.4,430.3 L152.4,430.4 L156.4,430.5 L160.4,430.6 L164.4,430.7 L168.4,430.8 L172.4,430.9 L176.4,431 L180.4,431 L184.4,431.1 L188.4,431.1 L192.4,431.2 L196.4,431.2 L200.4,431.3 L204.4,431.3 L208.4,431.3 L212.4,431.4 L216.4,431.4 L220.4,431.4 L224.4,431.4 L228.4,431.4 L232.4,431.4 L236.4,431.5 L240.4,431.5 L244.4,431.5 L248.4,431.5 L252.4,431.5 L256.4,431.5 L260.4,431.5 L264.4,431.5 L268.4,431.5 L272.4,431.5 L276.4,431.5 L280.4,431.5 L284.4,431.5 L288.4,431.5 L292.4,431.5 L296.4,431.5 L300.4,431.5 L304.4,431.5 L308.4,431.5 L312.4,431.5 L316.4,431.5 L320.4,431.5 L324.4,431.5 L328.4,431.5 L332.4,431.5 L336.4,431.5 L340.4,431.5 L344.4,431.5 L348.4,431.5 L352.4,431.5 L356.4,431.5 L360,431.5 L989.4,431.5" stroke="#00ee00" stroke-width="2"/>
<path d="M96.4,431.5 L160,431.5 L163,431.5 L166,431.5 L169,431.5 L172,431.5 L175,431.5 L178,431.5 L181,431.5 L184,431.5 L187,431.5 L190,431.5 L193,431.5 L196,431.5 L199,431.5 L202,431.5 L205,431.5 L208,431.5 L211,431.5 L214,431.5 L217,431.5 L220,431.5 L223,431.5 L226,431.5 L229,431.4 L232,431.4 L235,431.4 L238,431.4 L241,431.4 L244,431.3 L247,431.3 L250,431.3 L253,431.2 L256,431.2 L259,431.1 L262,431 L265,430.9 L268,430.8 L271,430.7 L274,430.6 L277,430.4 L280,430.2 L283,430 L286,429.8 L289,429.5 L292,429.2 L295,428.9 L298,428.5 L301,428.1 L304,427.6 L307,427.1 L310,426.5 L313,425.8 L316,425.1 L319,424.3 L322,423.4 L325,422.5 L328,421.5 L331,420.4 L334,419.2 L337,418 L340,416.7 L343,415.2 L346,413.8 L349,412.2 L352,410.5 L355,408.8 L358,407 L361,405.2 L364,403.3 L367,401.4 L370,399.4 L373,397.4 L376,395.4 L379,393.4 L382,391.4 L385,389.5 L388,387.5 L391,385.7 L394,383.9 L397,382.1 L400,380.5 L403,379 L406,377.6 L409,376.3 L412,375.2 L415,374.3 L418,373.5 L421,372.8 L424,372.4 L427,372.1 L430,372 L433,372.1 L436,372.4 L439,372.8 L442,373.5 L445,374.3 L448,375.2 L451,376.3 L454,377.6 L457,379 L460,380.5 L463,382.1 L466,383.9 L469,385.7 L472,387.5 L475,389.5 L478,391.4 L481,393.4 L484,395.4 L487,397.4 L490,399.4 L493,401.4 L496,403.3 L499,405.2 L502,407 L505,408.8 L508,410.5 L511,412.2 L514,413.8 L517,415.2 L520,416.7 L523,418 L526,419.2 L529,420.4 L532,421.5 L535,422.5 L538,423.4 L541,424.3 L544,425.1 L547,425.8 L550,426.5 L553,427.1 L556,427.6 L559,428.1 L562,428.5 L565,428.9 L568,429.2 L571,429.5 L574,429.8 L577,430 L580,430.2 L583,430.4 L586,430.6 L589,430.7 L592,430.8 L595,430.9 L598,431 L601,431.1 L604,431.2 L607,431.2 L610,431.3 L613,431.3 L616,431.3 L619,431.4 L622,431.4 L625,431.4 L628,431.4 L631,431.4 L634,431.5 L637,431.5 L640,431.5 L643,431.5 L646,431.5 L649,431.5 L652,431.5 L655,431.5 L658,431.5 L661,431.5 L664,431.5 L667,431.5 L670,431.5 L673,431.5 L676,431.5 L679,431.5 L682,431.5 L685,431.5 L688,431.5 L691,431.5 L694,431.5 L697,431.5 L700,431.5 L989.4,431.5" stroke="#00ffff" stroke-width="1.8"/>
<path d="M96.4,431.5 L447.3,431.5 L450.3,431.5 L453.3,431.5 L456.3,431.5 L459.3,431.5 L462.3,431.5 L465.3,431.5 L468.3,431.5 L471.3,431.5 L474.3,431.5 L477.3,431.5 L480.3,431.5 L483.3,431.5 L486.3,431.5 L489.3,431.5 L492.3,431.5 L495.3,431.5 L498.3,431.5 L501.3,431.4 L504.3,431.4 L507.3,431.4 L510.3,431.4 L513.3,431.4 L516.3,431.3 L519.3,431.3 L522.3,431.2 L525.3,431.2 L528.3,431.1 L531.3,431 L534.3,430.9 L537.3,430.8 L540.3,430.6 L543.3,430.5 L546.3,430.3 L549.3,430 L552.3,429.8 L555.3,429.4 L558.3,429.1 L561.3,428.6 L564.3,428.1 L567.3,427.6 L570.3,426.9 L573.3,426.2 L576.3,425.3 L579.3,424.4 L582.3,423.3 L585.3,422.1 L588.3,420.7 L591.3,419.2 L594.3,417.6 L597.3,415.7 L600.3,413.7 L603.3,411.4 L606.3,409 L609.3,406.3 L612.3,403.4 L615.3,400.3 L618.3,396.9 L621.3,393.3 L624.3,389.4 L627.3,385.3 L630.3,380.9 L633.3,376.3 L636.3,371.5 L639.3,366.5 L642.3,361.2 L645.3,355.8 L648.3,350.2 L651.3,344.5 L654.3,338.6 L657.3,332.7 L660.3,326.7 L663.3,320.8 L666.3,314.8 L669.3,308.9 L672.3,303.1 L675.3,297.5 L678.3,292 L681.3,286.8 L684.3,281.9 L687.3,277.3 L690.3,273 L693.3,269.2 L696.3,265.7 L699.3,262.7 L702.3,260.2 L705.3,258.3 L708.3,256.8 L711.3,255.9 L714.3,255.5 L717.3,255.7 L720.3,256.4 L723.3,257.7 L726.3,259.5 L729.3,261.8 L732.3,264.7 L735.3,268 L738.3,271.7 L741.3,275.8 L744.3,280.3 L747.3,285.2 L750.3,290.3 L753.3,295.6 L756.3,301.2 L759.3,307 L762.3,312.8 L765.3,318.8 L768.3,324.8 L771.3,330.7 L774.3,336.7 L777.3,342.5 L780.3,348.3 L783.3,354 L786.3,359.4 L789.3,364.8 L792.3,369.9 L795.3,374.8 L798.3,379.4 L801.3,383.9 L804.3,388.1 L807.3,392 L810.3,395.7 L813.3,399.2 L816.3,402.4 L819.3,405.4 L822.3,408.1 L825.3,410.6 L828.3,413 L831.3,415.1 L834.3,417 L837.3,418.7 L840.3,420.3 L843.3,421.7 L846.3,422.9 L849.3,424 L852.3,425 L855.3,425.9 L858.3,426.7 L861.3,427.4 L864.3,428 L867.3,428.5 L870.3,428.9 L873.3,429.3 L876.3,429.7 L879.3,429.9 L882.3,430.2 L885.3,430.4 L888.3,430.6 L891.3,430.7 L894.3,430.9 L897.3,431 L900.3,431.1 L903.3,431.1 L906.3,431.2 L909.3,431.3 L912.3,431.3 L915.3,431.3 L918.3,431.4 L921.3,431.4 L924.3,431.4 L927.3,431.4 L930.3,431.4 L933.3,431.5 L936.3,431.5 L939.3,431.5 L942.3,431.5 L945.3,431.5 L948.3,431.5 L951.3,431.5 L954.3,431.5 L957.3,431.5 L960.3,431.5 L963.3,431.5 L966.3,431.5 L969.3,431.5 L972.3,431.5 L975.3,431.5 L978.3,431.5 L981.3,431.5 L982.3,431.5 L989.4,431.5" stroke="#00ffff" stroke-width="1.8"/>
<path d="M96.4,431.5 H989.4" stroke="#00ee00" stroke-width="2.8"/>
<path d="M384.8,431.5 L385.8,431.5 L386.8,431.5 L387.8,431.5 L388.8,431.5 L389.8,431.5 L390.8,431.5 L391.8,431.5 L392.8,431.5 L393.8,431.5 L394.8,431.5 L395.8,431.5 L396.8,431.5 L397.8,431.5 L398.8,431.5 L399.8,431.5 L400.8,431.5 L401.8,431.5 L402.8,431.4 L403.8,431.4 L404.8,431.4 L405.8,431.4 L406.8,431.4 L407.8,431.3 L408.8,431.3 L409.8,431.2 L410.8,431.2 L411.8,431.1 L412.8,431 L413.8,430.8 L414.8,430.7 L415.8,430.5 L416.8,430.3 L417.8,430.1 L418.8,429.8 L419.8,429.4 L420.8,429 L421.8,428.6 L422.8,428.1 L423.8,427.4 L424.8,426.8 L425.8,426 L426.8,425.1 L427.8,424.1 L428.8,423 L429.8,421.8 L430.8,420.5 L431.8,419 L432.8,417.4 L433.8,415.7 L434.8,413.9 L435.8,411.9 L436.8,409.8 L437.8,407.6 L438.8,405.3 L439.8,403 L440.8,400.5 L441.8,398 L442.8,395.5 L443.8,393 L444.8,390.5 L445.8,388 L446.8,385.6 L447.8,383.3 L448.8,381.1 L449.8,379 L450.8,377.1 L451.8,375.4 L452.8,374 L453.8,372.7 L454.8,371.8 L455.8,371.1 L456.8,370.6 L457.8,370.5 L458.8,370.6 L459.8,371.1 L460.8,371.8 L461.8,372.7 L462.8,374 L463.8,375.4 L464.8,377.1 L465.8,379 L466.8,381.1 L467.8,383.3 L468.8,385.6 L469.8,388 L470.8,390.5 L471.8,393 L472.8,395.5 L473.8,398 L474.8,400.5 L475.8,403 L476.8,405.3 L477.8,407.6 L478.8,409.8 L479.8,411.9 L480.8,413.9 L481.8,415.7 L482.8,417.4 L483.8,419 L484.8,420.5 L485.8,421.8 L486.8,423 L487.8,424.1 L488.8,425.1 L489.8,426 L490.8,426.8 L491.8,427.4 L492.8,428.1 L493.8,428.6 L494.8,429 L495.8,429.4 L496.8,429.8 L497.8,430.1 L498.8,430.3 L499.8,430.5 L500.8,430.7 L501.8,430.8 L502.8,431 L503.8,431.1 L504.8,431.2 L505.8,431.2 L506.8,431.3 L507.8,431.3 L508.8,431.4 L509.8,431.4 L510.8,431.4 L511.8,431.4 L512.8,431.4 L513.8,431.5 L514.8,431.5 L515.8,431.5 L516.8,431.5 L517.8,431.5 L518.8,431.5 L519.8,431.5 L520.8,431.5 L521.8,431.5 L522.8,431.5 L523.8,431.5 L524.8,431.5 L525.8,431.5 L526.8,431.5 L527.8,431.5 L528.8,431.5 L529.8,431.5 L530.8,431.5" stroke="#0000ff" stroke-width="1.8" stroke-dasharray="4.4 3.8"/>
<path d="M668.3,431.5 L669.3,431.5 L670.3,431.5 L671.3,431.5 L672.3,431.5 L673.3,431.5 L674.3,431.5 L675.3,431.5 L676.3,431.5 L677.3,431.5 L678.3,431.5 L679.3,431.5 L680.3,431.5 L681.3,431.5 L682.3,431.5 L683.3,431.4 L684.3,431.4 L685.3,431.4 L686.3,431.4 L687.3,431.3 L688.3,431.3 L689.3,431.2 L690.3,431.1 L691.3,431.1 L692.3,430.9 L693.3,430.8 L694.3,430.6 L695.3,430.4 L696.3,430.2 L697.3,429.8 L698.3,429.5 L699.3,429 L700.3,428.5 L701.3,427.9 L702.3,427.2 L703.3,426.3 L704.3,425.3 L705.3,424.1 L706.3,422.8 L707.3,421.3 L708.3,419.5 L709.3,417.5 L710.3,415.3 L711.3,412.8 L712.3,410 L713.3,406.8 L714.3,403.4 L715.3,399.6 L716.3,395.4 L717.3,390.9 L718.3,386 L719.3,380.8 L720.3,375.2 L721.3,369.3 L722.3,363.1 L723.3,356.6 L724.3,349.8 L725.3,342.8 L726.3,335.6 L727.3,328.3 L728.3,320.9 L729.3,313.6 L730.3,306.3 L731.3,299.1 L732.3,292.2 L733.3,285.5 L734.3,279.2 L735.3,273.4 L736.3,268 L737.3,263.2 L738.3,259.1 L739.3,255.6 L740.3,252.8 L741.3,250.8 L742.3,249.6 L743.3,249.2 L744.3,249.6 L745.3,250.8 L746.3,252.8 L747.3,255.6 L748.3,259.1 L749.3,263.2 L750.3,268 L751.3,273.4 L752.3,279.2 L753.3,285.5 L754.3,292.2 L755.3,299.1 L756.3,306.3 L757.3,313.6 L758.3,320.9 L759.3,328.3 L760.3,335.6 L761.3,342.8 L762.3,349.8 L763.3,356.6 L764.3,363.1 L765.3,369.3 L766.3,375.2 L767.3,380.8 L768.3,386 L769.3,390.9 L770.3,395.4 L771.3,399.6 L772.3,403.4 L773.3,406.8 L774.3,410 L775.3,412.8 L776.3,415.3 L777.3,417.5 L778.3,419.5 L779.3,421.3 L780.3,422.8 L781.3,424.1 L782.3,425.3 L783.3,426.3 L784.3,427.2 L785.3,427.9 L786.3,428.5 L787.3,429 L788.3,429.5 L789.3,429.8 L790.3,430.2 L791.3,430.4 L792.3,430.6 L793.3,430.8 L794.3,430.9 L795.3,431.1 L796.3,431.1 L797.3,431.2 L798.3,431.3 L799.3,431.3 L800.3,431.4 L801.3,431.4 L802.3,431.4 L803.3,431.4 L804.3,431.5 L805.3,431.5 L806.3,431.5 L807.3,431.5 L808.3,431.5 L809.3,431.5 L810.3,431.5 L811.3,431.5 L812.3,431.5 L813.3,431.5 L814.3,431.5 L815.3,431.5 L816.3,431.5 L817.3,431.5 L818.3,431.5" stroke="#0000ff" stroke-width="1.8" stroke-dasharray="4.4 3.8"/>
<path d="M99.4,431.7 H989.4" stroke="#0000ff" stroke-width="1.6" stroke-dasharray="3.8 5"/>
<path d="M101.2,333.6H104.5V327.9H111.2V340.8H117.7V357.8H124.3V365.9H131.4V333.3H138.1V369.9H144.9V366.2H151.7V345.6H158.4V324.5H165.5V311.8H172.1V347.8H178.9V349.2H185.3V342.5H192V359.1H198.8V332.9H205.6V305.3H212.3V335.2H218.9V369.2H225.5V358H232.3V345.4H239.1V362.4H245.7V351.1H252.5V331.7H259.4V375H266.2V380.2H273V370H279.6V360.4H286.4V348.6H293V342.8H299.8V358.5H306.6V367.3H313.5V353.8H320.3V332.5H326.8V332.5H333.9V357.9H340.8V345.2H347.5V298.3H354V313.5H360.6V316.3H367.6V327.4H374.5V322.6H384.9V317H398.3V259.5H415.2V221.4H428.8V290.3H435.4V296.5H442.4V267.9H449.2V237.5H455.9V248.1H462.8V262.2H469.4V294.5H476.2V294.5H483.2V321.6H489.9V303.3H496.8V323.9H503.5V328.9H510.3V336.4H517.2V338.2H524V363.1H530.8V356.9H537.8V354.1H544.4V387.8H551.1V345.9H557.6V318.2H564.6V369.9H571.6V376.6H578.6V374.8H585.6V360.2H592.2V345.9H599.2V327.5H605.8V346.4H612.8V354.2H619.6V309.3H626.2V322.7H633V313.1H640V301.8H646.9V289.7H653.8V259.8H660.5V275H667.4V259.8H674.3V240.8H680.9V262.4H688V126.5H694.9V109.7H701.7V161.1H708.3V140.8H715.1V128.5H721.9V126.5H728.9V55.2H735.8V25.5H742.8V59.4H749.7V103.9H756.6V153.2H763.4V207.8H770V254.9H776.9V295.7H783.9V325.2H790.9V325.2H797.7V305.3H804.6V324.2H811.6V337.3H818.5V386.4H824.8V364.6H831.9V369.4H838.8V366.2H845.7V361.5H852.6V354.6H859.6V369.4H866.3V371.4H873.4V360.7H880.1V386.1H887.1V398.2H893.9V368.6H900.9V381.7H907.5V362.5H914.8V386.9H921.8V382.8H928.7V408.7H935.5V396.5H942.4V393.5H949.6V389.1H956.2V392.5H963V370.5H970.1V360.7H977V387.9H984.2V412.7H987.5" stroke="#0a800a" stroke-width="1.7"/>
<path d="M101.2,348.2 L107.8,348.4 L114.5,348.7 L121,349 L127.8,349.4 L134.8,349.7 L141.5,350 L148.3,350.3 L155.1,350.6 L161.9,350.9 L168.8,351.2 L175.5,351.5 L182.1,351.7 L188.7,352 L195.4,352.2 L202.2,352.4 L208.9,352.7 L215.6,352.9 L222.2,353.1 L228.9,353.3 L235.7,353.5 L242.4,353.7 L249.1,353.8 L255.9,354 L262.8,354 L269.6,354.1 L276.3,354 L283,353.8 L289.7,353.5 L296.4,353 L303.2,352.3 L310.1,351.3 L316.9,350 L323.6,348.4 L330.4,346.4 L337.4,343.8 L344.1,341 L350.8,337.8 L357.3,334.3 L364.1,330.4 L371.1,326.2 L377.9,321.9 L391.9,313.5 L404.7,307.1 L425.7,296.7 L432.1,289.4 L438.9,277 L445.8,261.9 L452.5,251 L459.4,251 L466.1,263.8 L472.8,284.2 L479.7,305.2 L486.5,321.1 L493.4,331.5 L500.1,338.3 L506.9,343.3 L513.8,347.4 L520.6,350.9 L527.4,354 L534.3,356.5 L541.1,358.5 L547.8,360 L554.4,361 L561.1,361.5 L568.1,361.4 L575.1,360.6 L582.1,359 L588.9,356.7 L595.7,353.5 L602.5,349.2 L609.3,343.9 L616.2,337.2 L622.9,329.4 L629.6,320.4 L636.5,309.9 L643.5,298.1 L650.3,285.5 L657.1,272.4 L664,259.1 L670.8,245.7 L677.6,233.3 L684.5,221.8 L691.5,211.5 L698.3,202.3 L705,192.3 L711.7,177 L718.5,150.6 L725.4,110.8 L732.3,66.6 L739.3,38.8 L746.2,46.5 L753.2,90.5 L760,152.4 L766.7,209.9 L773.5,253.3 L780.4,282.6 L787.4,301.8 L794.3,315.5 L801.2,326.6 L808.1,336.2 L815,344.4 L821.6,351 L828.3,356.6 L835.3,361.3 L842.2,365 L849.2,367.9 L856.1,370.1 L863,371.8 L869.8,373.1 L876.8,374 L883.6,374.7 L890.5,375.2 L897.4,375.6 L904.2,375.9 L911.1,376.1 L918.3,376.2 L925.2,376.4 L932.1,376.5 L939,376.6 L946,376.7 L952.9,376.8 L959.6,376.8 L966.5,376.9 L973.5,377 L980.6,377 L987.5,377.1" stroke="#ff0000" stroke-width="1.9"/>
</g>
<path d="M96.4,451.5 H989.4 M96.4,451.5 V551" stroke="#222" stroke-width="1.1" fill="none"/>
<path d="M96.4,551 H989.4 V451.5" stroke="#555" stroke-width="1" fill="none"/>
<path d="M96.4,538.3 h9 M989.4,538.3 h-9 M96.4,525.9 h9 M989.4,525.9 h-9 M96.4,513.4 h9 M989.4,513.4 h-9 M96.4,501 h9 M989.4,501 h-9 M96.4,488.6 h9 M989.4,488.6 h-9 M96.4,476.1 h9 M989.4,476.1 h-9 M96.4,463.7 h9 M989.4,463.7 h-9 M96.4,551 v-4 M96.4,451.5 v2 M126.2,551 v-2.5 M126.2,451.5 v1.2 M155.9,551 v-2.5 M155.9,451.5 v1.2 M185.7,551 v-2.5 M185.7,451.5 v1.2 M215.5,551 v-4 M215.5,451.5 v2 M245.2,551 v-2.5 M245.2,451.5 v1.2 M275,551 v-2.5 M275,451.5 v1.2 M304.8,551 v-2.5 M304.8,451.5 v1.2 M334.5,551 v-4 M334.5,451.5 v2 M364.3,551 v-2.5 M364.3,451.5 v1.2 M394.1,551 v-2.5 M394.1,451.5 v1.2 M423.8,551 v-2.5 M423.8,451.5 v1.2 M453.6,551 v-4 M453.6,451.5 v2 M483.3,551 v-2.5 M483.3,451.5 v1.2 M513.1,551 v-2.5 M513.1,451.5 v1.2 M542.9,551 v-2.5 M542.9,451.5 v1.2 M572.6,551 v-4 M572.6,451.5 v2 M602.4,551 v-2.5 M602.4,451.5 v1.2 M632.2,551 v-2.5 M632.2,451.5 v1.2 M661.9,551 v-2.5 M661.9,451.5 v1.2 M691.7,551 v-4 M691.7,451.5 v2 M721.5,551 v-2.5 M721.5,451.5 v1.2 M751.2,551 v-2.5 M751.2,451.5 v1.2 M781,551 v-2.5 M781,451.5 v1.2 M810.8,551 v-4 M810.8,451.5 v2 M840.5,551 v-2.5 M840.5,451.5 v1.2 M870.3,551 v-2.5 M870.3,451.5 v1.2 M900.1,551 v-2.5 M900.1,451.5 v1.2 M929.8,551 v-4 M929.8,451.5 v2 M959.6,551 v-2.5 M959.6,451.5 v1.2 M989.4,551 v-2.5 M989.4,451.5 v1.2" stroke="#555" stroke-width="1" fill="none"/>
<path d="M96.4,551 h18 M989.4,551 h-18" stroke="#222" stroke-width="1.2"/>
<g clip-path="url(#cr2)" fill="none">
<path d="M96.4,501 H989.4" stroke="#00ee00" stroke-width="2"/>
<path d="M96.4,476.1 H989.4" stroke="#00ee00" stroke-width="2" stroke-dasharray="4.7 4.3"/>
<path d="M96.4,525.9 H989.4" stroke="#00ee00" stroke-width="2" stroke-dasharray="4.7 4.3"/>
<path d="M101.2,482.4H104.5V474.6H111.2V489.3H117.7V515.6H124.3V527.8H131.4V475.8H138.1V532.1H144.9V527.8H151.7V492.4H158.4V455.5H165.5V430H172.1V495.7H178.9V498H185.3V487.6H192V512.7H198.8V473.2H205.6V430H212.3V476.7H218.9V527.4H225.5V509.7H232.3V488.4H239.1V514.1H245.7V497.4H252.5V466.8H259.4V536.1H266.2V547.3H273V530.9H279.6V512.7H286.4V491.4H293V482.7H299.8V511H306.6V525.7H313.5V506.3H320.3V475.8H326.8V477.5H333.9V522.7H340.8V506.6H347.5V430H354V467.7H360.6V475.8H367.6V501.8H374.5V501.1H384.9V502.3H398.3V495.7H415.2V430H428.8V503.5H435.4V529.1H442.4V510.4H449.2V480.3H455.9V496.2H462.8V497.1H469.4V515.3H476.2V481.5H483.2V500H489.9V452.6H496.8V475.8H503.5V476.8H510.3V482H517.2V478.6H524V513.9H530.8V500H537.8V493.3H544.4V537.3H551.1V480.1H557.6V430H564.6V515.6H571.6V530.5H578.6V530H585.6V507H592.2V486.7H599.2V463H605.8V505.8H612.8V530.9H619.6V467.7H626.2V505.8H633V506.3H640V506.6H646.9V507.1H653.8V481.5H660.5V524.3H667.4V521.7H674.3V510.4H680.9V533.1H688V430H694.9V466.8H701.7V492.4H708.3V489H715.1V487.6H721.9V526.2H728.9V490.7H735.8V483.8H742.8V515.8H749.7V514.9H756.6V497.4H763.4V492.8H770V499.7H776.9V518.4H783.9V536.9H790.9V516.7H797.7V465.6H804.6V481.9H811.6V488.1H818.5V570H824.8V514.9H831.9V513.6H838.8V502.8H845.7V488.4H852.6V470.6H859.6V495.7H866.3V497.4H873.4V477.5H880.1V521.4H887.1V541.3H893.9V487.2H900.9V511.5H907.5V473.4H914.8V520.5H921.8V513H928.7V570H935.5V535.7H942.4V531.2H949.6V523H956.2V529.1H963V488.1H970.1V470.8H977V521.3H984.2V570H987.5" stroke="#0000ff" stroke-width="1.75"/>
</g>
<text x="88.7" y="426.9" text-anchor="end" class="tl">5</text>
<text x="88.7" y="305.9" text-anchor="end" class="tl">10</text>
<text x="88.7" y="184.9" text-anchor="end" class="tl">15</text>
<text x="88.7" y="63.9" text-anchor="end" class="tl">20</text>
<text x="88.6" y="471.5" text-anchor="end" class="tl">2</text>
<text x="88.6" y="513" text-anchor="end" class="tl">0</text>
<text x="88.6" y="551.5" text-anchor="end" class="tl">−2</text>
<text x="97.6" y="592.8" text-anchor="middle" class="tl">4900</text>
<text x="216.7" y="592.8" text-anchor="middle" class="tl">4920</text>
<text x="335.7" y="592.8" text-anchor="middle" class="tl">4940</text>
<text x="454.8" y="592.8" text-anchor="middle" class="tl">4960</text>
<text x="573.8" y="592.8" text-anchor="middle" class="tl">4980</text>
<text x="692.9" y="592.8" text-anchor="middle" class="tl">5000</text>
<text x="812" y="592.8" text-anchor="middle" class="tl">5020</text>
<text x="931" y="592.8" text-anchor="middle" class="tl">5040</text>
<text x="541.5" y="628.2" text-anchor="middle" class="xt">rest wavelength <tspan font-size="32" dy="2.5">(</tspan><tspan dy="-2.5">Å</tspan><tspan font-size="32" dy="2.5">)</tspan></text>
<text transform="translate(26,390) rotate(-90)" class="yt">f<tspan font-size="20" dy="8">λ</tspan><tspan dy="-8" dx="5"> </tspan><tspan font-size="33" dy="2.5">(</tspan><tspan dy="-2.5">10</tspan><tspan font-size="19" dy="-11" dx="-5">−17</tspan><tspan dy="11" dx="-7">erg s</tspan><tspan font-size="19" dy="-11">−1</tspan><tspan dy="11">cm</tspan><tspan font-size="19" dy="-11">−2</tspan><tspan dy="11">Å</tspan><tspan font-size="19" dy="-11" dx="-4">−1</tspan><tspan dy="13.5" dx="-7" font-size="33">)</tspan></text>
<text transform="translate(22,565) rotate(-90)" class="yt">residuals</text>
<text x="113" y="35" class="an" style="font-size:32.6px;letter-spacing:0px">0725−52258−0480</text>
<text x="113" y="77.6" class="an">χ<tspan font-size="20" dy="-13">2</tspan><tspan font-size="20" dx="-15" dy="20">2</tspan></text>
<text transform="translate(157.3,82.2) scale(1,1.14) skewX(-14)" x="0" y="0" class="an" style="font-size:37px">/</text>
<text x="178" y="77.6" class="an">dof<tspan font-size="20" dy="7">2</tspan></text>
<text transform="translate(242.8,86.6) scale(1.06,1.9)" x="0" y="0" class="an">~</text>
<text x="268.7" y="77.6" class="an">1.18</text></g>
</svg></body></html>
